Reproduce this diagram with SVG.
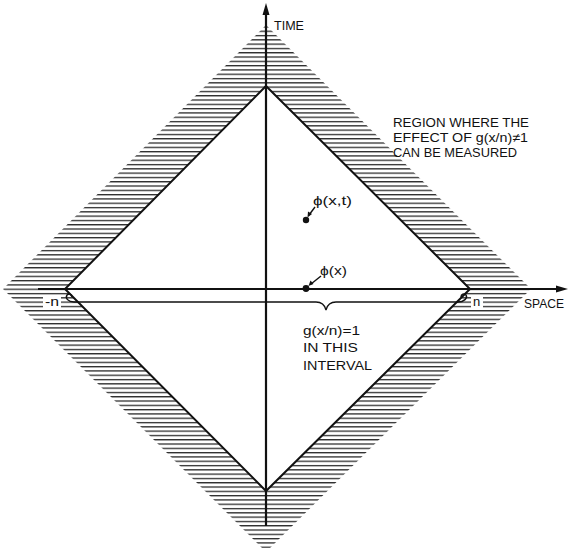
<svg xmlns="http://www.w3.org/2000/svg" width="570" height="548" viewBox="0 0 570 548">
<style>
.t{font-family:"Liberation Sans","DejaVu Sans",Arial,sans-serif;font-size:13px;fill:#111}
.edge{stroke:#111;stroke-width:2;fill:none;stroke-linejoin:miter}
.ax{stroke:#111;stroke-width:2.2;fill:none}
.thin{stroke:#111;stroke-width:1.4;fill:none}
</style>
<defs>
<pattern id="hatch" patternUnits="userSpaceOnUse" x="0" y="0.5" width="570" height="4.3">
<rect x="0" y="0" width="570" height="1.3" fill="#2a2a2a"/>
</pattern>
</defs>
<rect width="570" height="548" fill="#fff"/>
<g id="hatched-region">
<path fill="url(#hatch)" fill-rule="evenodd" d="M266 25 L531 289 L266 552 L3 289 Z M266 86 L470 289 L266 491 L65 289 Z"/>
<rect x="43" y="296" width="18" height="12" fill="#fff"/>
<rect x="471" y="296" width="12" height="12" fill="#fff"/>
</g>
<g id="light-cone">
<path class="edge" d="M266 86 L470 289 L266 491 L65 289 Z"/>
</g>
<g id="axes">
<line class="ax" x1="266" y1="12" x2="266" y2="526"/>
<polygon points="266,3 262.5,15 269.5,15" fill="#111"/>
<line class="ax" x1="38" y1="289" x2="558" y2="289"/>
<polygon points="568,289 556,285.5 556,292.5" fill="#111"/>
</g>
<g id="interval">
<path class="thin" d="M74 302 H316 Q324 302 326 310 Q328 302 336 302 H458"/>
<path class="thin" d="M74 302 C68 302 65 298 67 295 C69 293 72 294 72 297"/>
<path class="thin" d="M458 302 C464 302 468 298 466 295 C464 293 461 294 461 297"/>
</g>
<g id="points">
<circle cx="306" cy="220" r="3.2" fill="#111"/>
<circle cx="306" cy="288.5" r="3.4" fill="#111"/>
</g>
<g id="connectors">
<line class="thin" x1="315" y1="207" x2="309" y2="215"/>
<polygon points="307.5,217.5 308,211.5 312,214" fill="#111"/>
<line class="thin" x1="321" y1="276" x2="311" y2="284"/>
<polygon points="308.5,286 310.5,280.5 313.5,284" fill="#111"/>
</g>
<g id="labels">
<text class="t" x="274" y="30" textLength="30" lengthAdjust="spacingAndGlyphs">TIME</text>
<text class="t" x="524" y="308" textLength="40" lengthAdjust="spacingAndGlyphs">SPACE</text>
<text class="t" x="393" y="127" textLength="136" lengthAdjust="spacingAndGlyphs">REGION WHERE THE</text>
<text class="t" x="393" y="142" textLength="135" lengthAdjust="spacingAndGlyphs">EFFECT OF g(x/n)≠1</text>
<text class="t" x="393" y="157" textLength="124" lengthAdjust="spacingAndGlyphs">CAN BE MEASURED</text>
<text class="t" x="313" y="205" textLength="39" lengthAdjust="spacingAndGlyphs">ϕ(x,t)</text>
<text class="t" x="320" y="275" textLength="27" lengthAdjust="spacingAndGlyphs">ϕ(x)</text>
<text class="t" x="45" y="306" textLength="14" lengthAdjust="spacingAndGlyphs">-n</text>
<text class="t" x="473" y="306">n</text>
<text class="t" x="303" y="335" textLength="57" lengthAdjust="spacingAndGlyphs">g(x/n)=1</text>
<text class="t" x="303" y="352" textLength="55" lengthAdjust="spacingAndGlyphs">IN THIS</text>
<text class="t" x="303" y="370" textLength="69" lengthAdjust="spacingAndGlyphs">INTERVAL</text>
</g>
</svg>
